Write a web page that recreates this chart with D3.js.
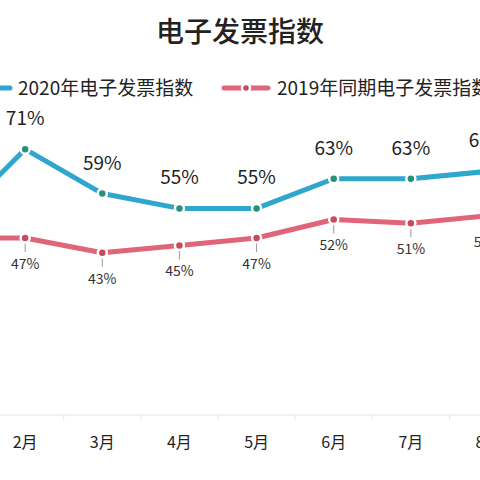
<!DOCTYPE html>
<html><head><meta charset="utf-8">
<script src="https://cdn.jsdelivr.net/npm/d3@7"></script>
<style>body{margin:0;background:#fff}text{font-family:"Noto Sans CJK SC","Noto Sans",sans-serif}</style>
</head><body><svg id="chart" width="480" height="480"></svg>
<script>
/* dados do grafico */
var months = ["1月","2月","3月","4月","5月","6月","7月","8月"];
var idx2020 = [50, 71, 59, 55, 55, 63, 63, 65];
var lbl2020 = ["50%","71%","59%","55%","55%","63%","63%","65%"];
var idx2019 = [47, 47, 43, 45, 47, 52, 51, 53];
var lbl2019 = ["47%","47%","43%","45%","47%","52%","51%","53%"];
var seriesNames = ["2020年电子发票指数", "2019年同期电子发票指数"];

var svg = d3.select("#chart");
var x = d3.scalePoint().domain(months).range([-52, 488]);
var y = d3.scaleLinear().domain([0, 47]).range([412, 238]);
var blue = "#2fa6cc", teal = "#2a8f7c", red = "#e06578", dred = "#c84a5e";

svg.append("text").attr("x", 240).attr("y", 42).attr("text-anchor", "middle")
  .attr("font-size", 28).attr("font-weight", 500).attr("fill", "#222").text("电子发票指数");

// legenda
svg.append("line").attr("x1", -5).attr("x2", 10).attr("y1", 88).attr("y2", 88)
  .attr("stroke", blue).attr("stroke-width", 5).attr("stroke-linecap", "round");
svg.append("text").attr("x", 18).attr("y", 95).attr("font-size", 19).attr("fill", "#222").text(seriesNames[0]);
svg.append("line").attr("x1", 224).attr("x2", 268).attr("y1", 88).attr("y2", 88)
  .attr("stroke", red).attr("stroke-width", 5).attr("stroke-linecap", "round");
svg.append("circle").attr("cx", 246).attr("cy", 88).attr("r", 4).attr("fill", dred).attr("stroke", "#fff").attr("stroke-width", 2.5);
svg.append("text").attr("x", 277).attr("y", 95).attr("font-size", 19).attr("fill", "#222").text(seriesNames[1]);

// eixo x
svg.append("line").attr("x1", 0).attr("x2", 480).attr("y1", 415).attr("y2", 415).attr("stroke", "#e6e6e6");
var step = x.step();
months.forEach(function(m){
  svg.append("line").attr("x1", x(m) + step/2).attr("x2", x(m) + step/2)
    .attr("y1", 415).attr("y2", 420).attr("stroke", "#e6e6e6");
});
svg.selectAll(".xl").data(months).enter().append("text")
  .attr("x", function(d){return x(d);}).attr("y", 448).attr("text-anchor", "middle")
  .attr("font-size", 16).attr("fill", "#222").text(function(d){return d;});

function drawSeries(vals, labels, lineColor, dotColor, above){
  var line = d3.line().x(function(d,i){return x(months[i]);}).y(function(d){return y(d);});
  svg.append("path").datum(vals).attr("d", line).attr("fill", "none")
    .attr("stroke", lineColor).attr("stroke-width", 5).attr("stroke-linejoin", "round");
  vals.forEach(function(v,i){
    var cx = x(months[i]), cy = y(v);
    if(!above){
      svg.append("line").attr("x1", cx).attr("x2", cx).attr("y1", cy).attr("y2", cy + 14)
        .attr("stroke", "#999").attr("stroke-width", 1);
    }
    svg.append("circle").attr("cx", cx).attr("cy", cy).attr("r", 4.5)
      .attr("fill", dotColor).attr("stroke", "#fff").attr("stroke-width", 2.5);
    if(above){
      svg.append("text").attr("x", cx).attr("y", cy - 24).attr("text-anchor", "middle")
        .attr("font-size", 19).attr("fill", "#222").text(labels[i]);
    } else {
      svg.append("text").attr("x", cx).attr("y", cy + 31).attr("text-anchor", "middle")
        .attr("font-size", 14).attr("fill", "#333").text(labels[i]);
    }
  });
}
drawSeries(idx2019, lbl2019, red, dred, false);
drawSeries(idx2020, lbl2020, blue, teal, true);
</script></body></html>
